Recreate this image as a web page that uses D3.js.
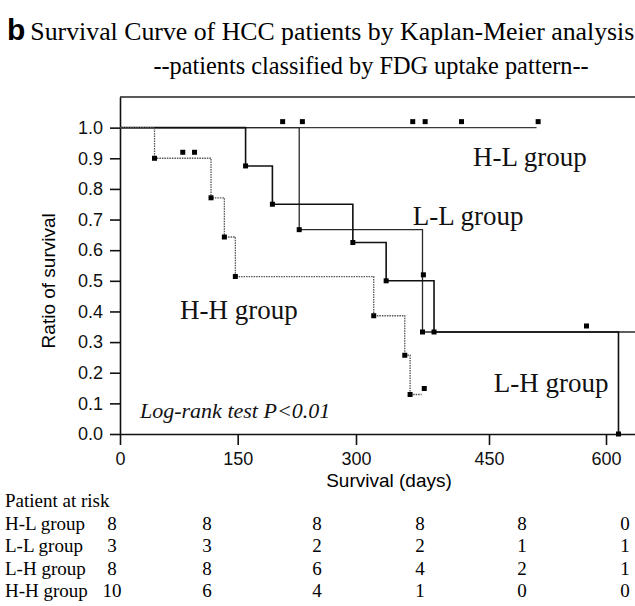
<!DOCTYPE html>
<html>
<head>
<meta charset="utf-8">
<script src="https://cdn.jsdelivr.net/npm/d3@7/dist/d3.min.js"></script>
<style>
  body { margin: 0; background: #fff; }
  svg { display: block; }
</style>
</head>
<body>
<svg id="chart" width="635" height="606"></svg>
<script>
'use strict';

// ---------------------------------------------------------
// DATA
// ---------------------------------------------------------

const groupNames = ['H-L group', 'L-L group', 'L-H group', 'H-H group'];

// [day, ratio of survival after the drop]
const hlSteps = [];
const llSteps = [[228, 0.667], [375, 0.333]];
const lhSteps = [[160, 0.875], [194, 0.75], [296, 0.625], [334, 0.5], [388, 0.333], [616, 0]];
const hhSteps = [[44, 0.9], [116, 0.771], [133, 0.643], [147, 0.514], [320, 0.386], [355, 0.257], [361, 0.129]];

// censored days
const hlCensored = [207, 232, 364, 378, 419, 513];
const llCensored = [];
const lhCensored = [376, 575];
const hhCensored = [80, 95, 377];

// last day each curve is drawn to
const curveEnds = [511, 650, 616, 374];

const xTicks = [0, 150, 300, 450, 600];
const yTicks = [0, 0.1, 0.2, 0.3, 0.4, 0.5, 0.6, 0.7, 0.8, 0.9, 1.0];

const riskHeader = 'Patient at risk';
const riskHL = [8, 8, 8, 8, 8, 0];
const riskLL = [3, 3, 2, 2, 1, 1];
const riskLH = [8, 8, 6, 4, 2, 1];
const riskHH = [10, 6, 4, 1, 0, 0];

const titleMark = 'b';
const titleText = 'Survival Curve of HCC patients by Kaplan-Meier analysis';
const subtitleText = '--patients classified by FDG uptake pattern--';
const xLabel = 'Survival (days)';
const yLabel = 'Ratio of survival';
const testLabel = 'Log-rank test P<0.01';

// ---------------------------------------------------------
// LAYOUT
// ---------------------------------------------------------

const SERIF = '"Liberation Serif", "Times New Roman", serif';
const SANS = '"Liberation Sans", Arial, Helvetica, sans-serif';

const plot = { left: 120, top: 97, bottom: 434 };

// the printed axis is not evenly spaced, so the scale follows each tick
const xDomain = [0, 150, 300, 450, 600, 650];
const xRange = [120, 237.7, 356, 489, 606, 645];

const groups = [
  { name: groupNames[0], steps: hlSteps, censored: hlCensored, end: curveEnds[0], color: '#3a3a3a', width: 1.2, dash: null, label: [432, 0.876] },
  { name: groupNames[1], steps: llSteps, censored: llCensored, end: curveEnds[1], color: '#2a2a2a', width: 1.3, dash: null, label: [364, 0.683] },
  { name: groupNames[2], steps: lhSteps, censored: lhCensored, end: curveEnds[2], color: '#111', width: 1.6, dash: null, label: [456, 0.137] },
  { name: groupNames[3], steps: hhSteps, censored: hhCensored, end: curveEnds[3], color: '#555', width: 1.3, dash: '1.5,1', label: [76.5, 0.376] }
];
const riskRows = [riskHL, riskLL, riskLH, riskHH];

const svg = d3.select('#chart');

const x = d3.scaleLinear().domain(xDomain).range(xRange);
const y = d3.scaleLinear().domain([0, 1.1]).range([plot.bottom, plot.top]);

// TITLE
const title = svg.append('text').attr('x', 7).attr('y', 40);
title.append('tspan').attr('font-family', SANS).attr('font-weight', 'bold').attr('font-size', 30).text(titleMark);
title.append('tspan').attr('dx', 5).attr('font-family', SERIF).attr('font-size', 25.8).text(titleText);

svg.append('text').attr('x', 371).attr('y', 74).attr('text-anchor', 'middle')
  .attr('font-family', SERIF).attr('font-size', 24.3).text(subtitleText);

// FRAME
svg.append('path').attr('d', `M${ plot.left },${ plot.top }H${ xRange[xRange.length - 1] }`).attr('stroke', '#222').attr('stroke-width', 1.5);

// AXES
const xAxis = d3.axisBottom(x).tickValues(xTicks).tickSize(11).tickSizeOuter(0).tickPadding(7);
const yAxis = d3.axisLeft(y).tickValues(yTicks).tickSize(10).tickSizeOuter(0).tickPadding(7).tickFormat(d3.format('.1f'));

svg.append('g').attr('transform', `translate(0, ${ plot.bottom })`).call(xAxis)
  .call(g => g.selectAll('text').attr('font-family', SANS).attr('font-size', 18).attr('fill', '#111'))
  .call(g => g.selectAll('line, path').attr('stroke', '#111').attr('stroke-width', 1.6));

svg.append('g').attr('transform', `translate(${ plot.left }, 0)`).call(yAxis)
  .call(g => g.selectAll('text').attr('font-family', SANS).attr('font-size', 18).attr('fill', '#111'))
  .call(g => g.selectAll('line, path').attr('stroke', '#111').attr('stroke-width', 1.6));

svg.append('text').attr('x', 389).attr('y', 487).attr('text-anchor', 'middle')
  .attr('font-family', SANS).attr('font-size', 19).text(xLabel);

svg.append('text').attr('transform', `translate(55, ${ y(0.5) }) rotate(-90)`).attr('text-anchor', 'middle')
  .attr('font-family', SANS).attr('font-size', 19).text(yLabel);

// ---------------------------------------------------------
// CURVES
// ---------------------------------------------------------

const stepLine = d3.line().curve(d3.curveStepAfter).x(d => x(d[0])).y(d => y(d[1]));

function survivalAt(steps, day) {
  let s = 1;
  steps.forEach(([t, v]) => { if (t <= day) { s = v; } });
  return s;
}

const MARK = 5;

groups.forEach(grp => {
  const pts = [[0, 1]].concat(grp.steps);
  pts.push([grp.end, survivalAt(grp.steps, grp.end)]);

  svg.append('path').attr('d', stepLine(pts)).attr('fill', 'none')
    .attr('stroke', grp.color).attr('stroke-width', grp.width).attr('stroke-dasharray', grp.dash);

  // event marks at each drop
  svg.append('g').selectAll('rect').data(grp.steps).join('rect')
    .attr('x', d => x(d[0]) - MARK / 2).attr('y', d => y(d[1]) - MARK / 2)
    .attr('width', MARK).attr('height', MARK).attr('fill', '#000');

  // censor marks, drawn just above the curve
  svg.append('g').selectAll('rect').data(grp.censored).join('rect')
    .attr('x', d => x(d) - MARK / 2).attr('y', d => y(survivalAt(grp.steps, d)) - 6 - MARK / 2)
    .attr('width', MARK).attr('height', MARK).attr('fill', '#000');

  svg.append('text').attr('x', x(grp.label[0])).attr('y', y(grp.label[1]))
    .attr('font-family', SERIF).attr('font-size', 27).attr('fill', '#111').text(grp.name);
});

svg.append('text').attr('x', x(25.5)).attr('y', y(0.052))
  .attr('font-family', SERIF).attr('font-style', 'italic').attr('font-size', 22).attr('fill', '#111').text(testLabel);

// ---------------------------------------------------------
// PATIENTS AT RISK
// ---------------------------------------------------------

const table = { left: 5, top: 507, rowStep: 22.5, cols: [112, 207, 317, 420, 522, 625], fontSize: 19 };

svg.append('text').attr('x', table.left).attr('y', table.top)
  .attr('font-family', SERIF).attr('font-size', table.fontSize).text(riskHeader);

riskRows.forEach((row, i) => {
  const rowY = table.top + (i + 1) * table.rowStep;
  svg.append('text').attr('x', table.left).attr('y', rowY)
    .attr('font-family', SERIF).attr('font-size', table.fontSize).text(groupNames[i]);
  svg.append('g').selectAll('text').data(row).join('text')
    .attr('x', (d, j) => table.cols[j]).attr('y', rowY)
    .attr('text-anchor', 'middle').attr('font-family', SERIF).attr('font-size', table.fontSize)
    .text(d => d);
});
</script>
</body>
</html>
